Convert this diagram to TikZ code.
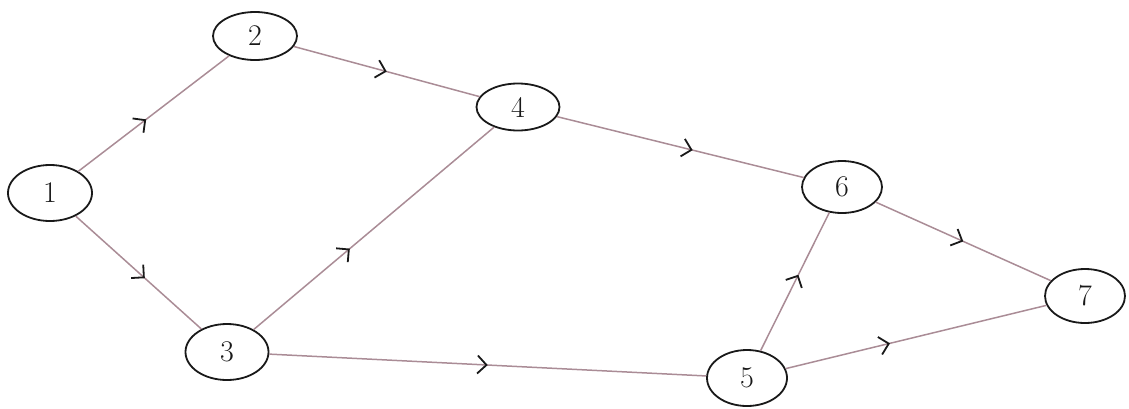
\documentclass[tikz,border=0pt]{standalone}
\usetikzlibrary{arrows.meta,decorations.markings,shapes.geometric}
\definecolor{edgec}{RGB}{170,140,150}
\definecolor{inkc}{RGB}{25,25,25}
\tikzset{
  vtx/.style={draw=inkc, line width=1.8pt, ellipse, minimum width=80pt, minimum height=52pt, inner sep=0pt, font=\fontsize{30}{30}\selectfont, text=inkc},
  edge/.style={draw=edgec, line width=1.5pt, postaction={decorate},
    decoration={markings, mark=at position #1 with {\arrow[inkc, line width=1.8pt]{Straight Barb[length=9pt, width=18pt]}}}},
  edge/.default=0.5
}
\begin{document}
\begin{tikzpicture}[x=1pt,y=-1pt]
\useasboundingbox (0,0) rectangle (1129,408);
\node[vtx, minimum width=84pt, minimum height=56pt] (n1) at (50,193) {1};
\node[vtx, minimum width=84pt, minimum height=48pt] (n2) at (255,36) {2};
\node[vtx, minimum width=83pt, minimum height=47pt] (n4) at (518,107) {4};
\node[vtx, minimum width=83pt, minimum height=56pt] (n3) at (227,352) {3};
\node[vtx, minimum width=80pt, minimum height=52pt] (n6) at (842,187) {6};
\node[vtx, minimum width=80pt, minimum height=56pt] (n5) at (747,378) {5};
\node[vtx, minimum width=80pt, minimum height=54pt] (n7) at (1085,296) {7};
\draw[edge=0.45] (n1) -- (n2);
\draw[edge=0.55] (n1) -- (n3);
\draw[edge=0.5] (n2) -- (n4);
\draw[edge=0.4] (n3) -- (n4);
\draw[edge=0.5] (n3) -- (n5);
\draw[edge=0.55] (n4) -- (n6);
\draw[edge=0.5] (n6) -- (n7);
\draw[edge=0.55] (n5) -- (n6);
\draw[edge=0.4] (n5) -- (n7);
\end{tikzpicture}
\end{document}
